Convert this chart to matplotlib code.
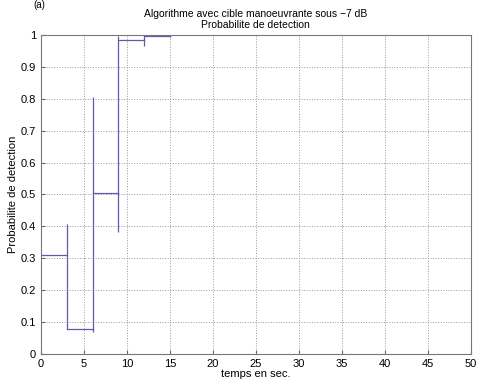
import numpy as np
import matplotlib.pyplot as plt

plt.rcParams['font.family'] = ['Liberation Sans', 'DejaVu Sans']

# paliers de la probabilite de detection
t_edges = [0, 3, 6, 9, 12, 15]
p_levels = [0.31, 0.078, 0.505, 0.984, 0.996]

# barres verticales en fin de palier
t_bars = [3, 6, 9, 12, 15]
p_low = [0.078, 0.068, 0.383, 0.966, 0.994]
p_high = [0.406, 0.807, 0.997, 0.996, 1.0]

col = '#5c5ca8'

fig = plt.figure(figsize=(4.78, 3.83), dpi=100)
ax = fig.add_axes([0.0858, 0.0757, 0.899, 0.833])

for i in range(len(p_levels)):
    ax.plot([t_edges[i], t_edges[i+1]], [p_levels[i], p_levels[i]], color=col, lw=0.9)
ax.vlines(t_bars, p_low, p_high, color=col, lw=0.9)

ax.set_xlim(0, 50)
ax.set_ylim(0, 1)
ax.set_xticks(np.arange(0, 51, 5))
ax.set_yticks(np.arange(0, 1.01, 0.1))
ax.set_yticklabels(['0', '0.1', '0.2', '0.3', '0.4', '0.5', '0.6', '0.7', '0.8', '0.9', '1'])
ax.grid(True, linestyle=':', color='#999999', lw=0.7)
ax.tick_params(direction='in', length=3, labelsize=8, color='#666666')
for s in ax.spines.values():
    s.set_color('#777777')
    s.set_linewidth(0.8)

ax.set_xlabel('temps en sec.', fontsize=8, labelpad=0)
ax.set_ylabel('Probabilite de detection', fontsize=8, labelpad=2)
ax.set_title('Algorithme avec cible manoeuvrante sous \u22127 dB\nProbabilite de detection',
             fontsize=7.5, linespacing=1.15, pad=5)
fig.text(0.069, 0.999, '(a)', fontsize=7, va='top')

fig.savefig('out.png', dpi=100)
